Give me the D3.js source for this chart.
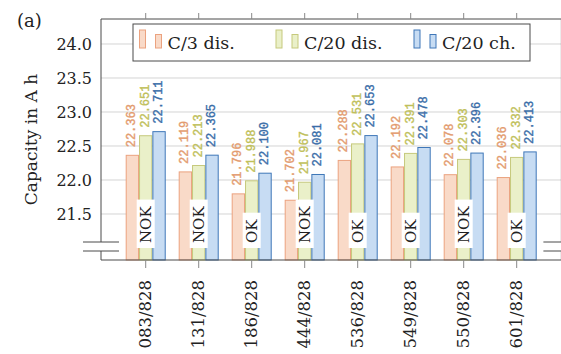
<!DOCTYPE html>
<html>
<head>
<meta charset="utf-8">
<script src="https://cdn.jsdelivr.net/npm/d3@7"></script>
<style>
  html, body { margin: 0; padding: 0; background: #fff; }
  svg { display: block; }
</style>
</head>
<body>
<svg id="chart" width="561" height="354"></svg>
<script>
// Cell capacities per cell ID, three test conditions (A h)
const categories = ["083/828", "131/828", "186/828", "444/828", "536/828", "549/828", "550/828", "601/828"];
const c3Discharge  = [22.363, 22.119, 21.796, 21.702, 22.288, 22.192, 22.078, 22.036];
const c20Discharge = [22.651, 22.213, 21.988, 21.967, 22.531, 22.391, 22.303, 22.332];
const c20Charge    = [22.711, 22.365, 22.100, 22.081, 22.653, 22.478, 22.396, 22.413];
const status = ["NOK", "NOK", "OK", "NOK", "OK", "OK", "NOK", "OK"];
const seriesNames = ["C/3 dis.", "C/20 dis.", "C/20 ch."];
const yTicks = [21.5, 22.0, 22.5, 23.0, 23.5, 24.0];
const yLimits = [20.8235, 24.3676];

const seriesStyle = [
  { fill: "#f9dac8", stroke: "#eba27f", label: "#e39b6e" },
  { fill: "#eaf0c9", stroke: "#c6c97c", label: "#bfc05a" },
  { fill: "#c7dcf3", stroke: "#3f77b8", label: "#3a6da8" }
];
const series = [c3Discharge, c20Discharge, c20Charge];

const serif = "'DejaVu Serif', serif";
const mono = "'Liberation Mono', 'DejaVu Sans Mono', monospace";

const svg = d3.select("#chart");
const m = { left: 101, right: 561.4, top: 19, bottom: 260 };

const x = d3.scaleBand().domain(categories).range([m.left, m.right])
  .paddingInner(0.245).paddingOuter(0.466);
const xs = d3.scaleBand().domain(d3.range(series.length)).range([0, x.bandwidth()]);
const y = d3.scaleLinear().domain(yLimits).range([m.bottom, m.top]);

// horizontal grid
svg.append("g").selectAll("line").data(yTicks).join("line")
  .attr("x1", m.left).attr("x2", m.right)
  .attr("y1", d => y(d)).attr("y2", d => y(d))
  .attr("stroke", "#d4d4d4").attr("stroke-width", 1);

// bars
const groups = svg.append("g").selectAll("g").data(categories).join("g")
  .attr("transform", d => `translate(${x(d)},0)`);
series.forEach((vals, si) => {
  groups.append("rect")
    .attr("x", xs(si) + 0.5)
    .attr("width", xs.bandwidth() - 1)
    .attr("y", (d, i) => y(vals[i]))
    .attr("height", (d, i) => m.bottom - y(vals[i]))
    .attr("fill", seriesStyle[si].fill)
    .attr("stroke", seriesStyle[si].stroke)
    .attr("stroke-width", 1);
});

// value labels above bars
series.forEach((vals, si) => {
  groups.append("text")
    .attr("transform", (d, i) => `translate(${xs(si) + xs.bandwidth() / 2},${y(vals[i]) - 8}) rotate(-90)`)
    .attr("text-anchor", "start")
    .attr("dominant-baseline", "central")
    .attr("font-family", mono)
    .attr("font-size", 12)
    .attr("fill", seriesStyle[si].label)
    .attr("stroke", seriesStyle[si].label)
    .attr("stroke-width", 0.35)
    .text((d, i) => d3.format(".3f")(vals[i]));
});

// status tags
groups.each(function (d, i) {
  const g = d3.select(this).append("g")
    .attr("transform", `translate(${x.bandwidth() / 2},${m.bottom - 17}) rotate(-90)`);
  const r = g.append("rect").attr("fill", "#fff");
  const t = g.append("text")
    .attr("text-anchor", "start")
    .attr("dominant-baseline", "central")
    .attr("font-family", serif)
    .attr("font-size", 15)
    .attr("fill", "#222")
    .text(status[i]);
  const bb = t.node().getBBox();
  r.attr("x", -5).attr("y", -9).attr("width", bb.width + 11).attr("height", 18);
});

// frame
const axisColor = "#4a4a4a";
svg.append("line").attr("x1", m.left).attr("x2", m.right).attr("y1", m.top).attr("y2", m.top)
  .attr("stroke", axisColor);
svg.append("line").attr("x1", m.left).attr("x2", m.right).attr("y1", m.bottom).attr("y2", m.bottom)
  .attr("stroke", axisColor);
svg.append("line").attr("x1", m.left).attr("x2", m.left).attr("y1", m.top).attr("y2", m.bottom)
  .attr("stroke", axisColor);
svg.append("line").attr("x1", m.right).attr("x2", m.right).attr("y1", m.top).attr("y2", m.bottom)
  .attr("stroke", axisColor);

// axis break marks
[m.left, m.right].forEach(ax => {
  svg.append("rect").attr("x", ax - 18).attr("y", 242).attr("width", 36).attr("height", 9).attr("fill", "#fff");
  [242, 251].forEach(yy => svg.append("line")
    .attr("x1", ax - 18).attr("x2", ax + 18).attr("y1", yy).attr("y2", yy)
    .attr("stroke", axisColor));
});

// x axis (bottom) and mirrored ticks on top
const xAxis = svg.append("g").attr("transform", `translate(0,${m.bottom})`)
  .call(d3.axisBottom(x).tickSize(8).tickFormat(""));
xAxis.select(".domain").remove();
xAxis.selectAll("line").attr("stroke", "#888");
xAxis.selectAll(".tick").append("text")
  .attr("transform", "translate(0,20) rotate(-90)")
  .attr("text-anchor", "end")
  .attr("dominant-baseline", "central")
  .attr("font-family", serif)
  .attr("font-size", 16.5)
  .attr("fill", "#222")
  .text(d => d);

const xTop = svg.append("g").attr("transform", `translate(0,${m.top})`)
  .call(d3.axisTop(x).tickSize(6).tickFormat(""));
xTop.select(".domain").remove();
xTop.selectAll("line").attr("stroke", "#888");

// y axis labels
const yAxis = svg.append("g").attr("transform", `translate(${m.left},0)`)
  .call(d3.axisLeft(y).tickValues(yTicks).tickSize(0).tickPadding(9).tickFormat(d3.format(".1f")));
yAxis.select(".domain").remove();
yAxis.selectAll("text")
  .attr("font-family", serif).attr("font-size", 16).attr("fill", "#222");

svg.append("text")
  .attr("transform", `translate(31,${(m.top + m.bottom) / 2}) rotate(-90)`)
  .attr("text-anchor", "middle")
  .attr("dominant-baseline", "central")
  .attr("font-family", serif)
  .attr("font-size", 17)
  .attr("fill", "#222")
  .text("Capacity in A h");

svg.append("text")
  .attr("x", 17).attr("y", 27)
  .attr("font-family", serif).attr("font-size", 18).attr("fill", "#222")
  .text("(a)");

// legend
const leg = svg.append("g");
leg.append("rect").attr("x", 133).attr("y", 24).attr("width", 397).attr("height", 37)
  .attr("fill", "#fff").attr("stroke", axisColor);
const legX = [139.5, 276, 414];
seriesNames.forEach((name, si) => {
  const st = seriesStyle[si];
  leg.append("rect").attr("x", legX[si]).attr("y", 30).attr("width", 6).attr("height", 18)
    .attr("fill", st.fill).attr("stroke", st.stroke);
  leg.append("rect").attr("x", legX[si] + 16).attr("y", 34.5).attr("width", 6).attr("height", 13.5)
    .attr("fill", st.fill).attr("stroke", st.stroke);
  leg.append("text").attr("x", legX[si] + 28).attr("y", 48.5)
    .attr("font-family", serif).attr("font-size", 17.5).attr("fill", "#222")
    .text(name);
});
</script>
</body>
</html>
